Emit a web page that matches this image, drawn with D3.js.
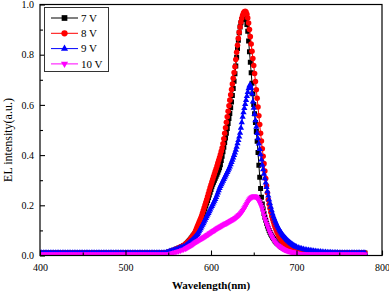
<!DOCTYPE html>
<html>
<head>
<meta charset="utf-8">
<script src="https://cdn.jsdelivr.net/npm/d3@7"></script>
<style>
body { margin: 0; background: #fff; }
svg text { font-family: "Liberation Serif", "Times New Roman", serif; fill: #000; }
</style>
</head>
<body>
<svg id="chart" width="389" height="298"></svg>
<script>
// sample grid of the spectra (nm): 2 nm in the flat parts, 1 nm over the peak
var wavelengths = d3.range(400, 570, 2).concat(d3.range(570, 700, 1), d3.range(700, 781, 2));

var el7V = [
    .010,.010,.010,.010,.010,.010,.010,.010,.010,.010,
    .010,.010,.010,.010,.010,.010,.010,.010,.010,.010,
    .010,.010,.010,.010,.010,.010,.010,.010,.010,.010,
    .010,.010,.010,.010,.010,.010,.010,.010,.010,.010,
    .010,.010,.010,.010,.010,.010,.010,.010,.010,.010,
    .010,.010,.010,.010,.010,.010,.010,.010,.010,.010,
    .010,.010,.010,.010,.010,.010,.010,.010,.010,.010,
    .010,.010,.010,.010,.011,.013,.016,.018,.020,.023,
    .026,.029,.032,.035,.039,
    .042,.046,.049,.053,.057,.061,.065,.069,.073,.078,
    .082,.086,.091,.099,.107,.115,.123,.131,.139,.147,
    .156,.166,.176,.187,.198,.209,.219,.230,.241,.252,
    .263,.274,.284,.292,.300,.308,.316,.324,.332,.341,
    .350,.362,.378,.395,.413,.431,.450,.468,.487,.506,
    .526,.546,.566,.589,.612,.637,.665,.694,.724,.755,
    .790,.825,.858,.887,.910,.927,.940,.950,.956,.957,
    .952,.940,.920,.893,.855,.812,.770,.728,.686,.644,
    .602,.565,.530,.494,.455,.410,.360,.312,.267,.232,
    .205,.185,.167,.152,.140,.128,.118,.109,.100,.092,
    .085,.079,.073,.068,.063,.058,.054,.050,.047,.044,
    .041,.038,.035,.033,.031,.029,.027,.025,.024,.022,
    .021,.020,.019,.018,.017,.016,.016,.015,.015,.014,
    .014,.013,.012,.011,.010,.010,.010,.010,.010,.010,
    .010,.010,.010,.010,.010,.010,.010,.010,.010,.010,
    .010,.010,.010,.010,.010,.010,.010,.010,.010,.010,
    .010,.010,.010,.010,.010,.010,.010,.010,.010,.010,
    .010
];

var el8V = [
    .010,.010,.010,.010,.010,.010,.010,.010,.010,.010,
    .010,.010,.010,.010,.010,.010,.010,.010,.010,.010,
    .010,.010,.010,.010,.010,.010,.010,.010,.010,.010,
    .010,.010,.010,.010,.010,.010,.010,.010,.010,.010,
    .010,.010,.010,.010,.010,.010,.010,.010,.010,.010,
    .010,.010,.010,.010,.010,.010,.010,.010,.010,.010,
    .010,.010,.010,.010,.010,.010,.010,.010,.010,.010,
    .010,.010,.010,.010,.011,.013,.016,.018,.021,.024,
    .027,.030,.034,.037,.041,
    .044,.048,.051,.054,.057,.061,.065,.070,.075,.080,
    .085,.091,.099,.107,.115,.123,.132,.140,.148,.157,
    .168,.179,.190,.201,.212,.223,.235,.247,.259,.271,
    .282,.293,.304,.315,.325,.336,.346,.357,.368,.379,
    .390,.402,.415,.428,.445,.465,.487,.509,.531,.553,
    .575,.597,.619,.640,.661,.683,.706,.729,.752,.781,
    .810,.838,.865,.889,.910,.929,.945,.957,.966,.971,
    .973,.970,.961,.946,.926,.900,.872,.843,.814,.785,
    .757,.725,.693,.660,.626,.592,.557,.522,.487,.456,
    .425,.395,.366,.337,.307,.278,.250,.222,.204,.188,
    .172,.157,.145,.134,.123,.113,.104,.095,.088,.081,
    .075,.069,.064,.059,.054,.050,.046,.042,.039,.036,
    .034,.032,.030,.028,.026,.025,.023,.022,.021,.020,
    .019,.018,.017,.016,.015,.014,.013,.012,.012,.011,
    .011,.010,.010,.010,.010,.010,.010,.010,.010,.010,
    .010,.010,.010,.010,.010,.010,.010,.010,.010,.010,
    .010,.010,.010,.010,.010,.010,.010,.010,.010,.010,
    .010
];

var el9V = [
    .010,.010,.010,.010,.010,.010,.010,.010,.010,.010,
    .010,.010,.010,.010,.010,.010,.010,.010,.010,.010,
    .010,.010,.010,.010,.010,.010,.010,.010,.010,.010,
    .010,.010,.010,.010,.010,.010,.010,.010,.010,.010,
    .010,.010,.010,.010,.010,.010,.010,.010,.010,.010,
    .010,.010,.010,.010,.010,.010,.010,.010,.010,.010,
    .010,.010,.010,.010,.010,.010,.010,.010,.010,.010,
    .010,.010,.010,.010,.012,.014,.017,.019,.021,.023,
    .025,.028,.031,.033,.036,
    .038,.041,.043,.046,.049,.052,.055,.058,.061,.065,
    .068,.072,.076,.081,.085,.090,.096,.102,.108,.115,
    .122,.128,.135,.142,.149,.156,.163,.169,.176,.183,
    .190,.196,.203,.210,.217,.224,.232,.241,.250,.259,
    .268,.276,.283,.290,.297,.304,.311,.318,.325,.332,
    .339,.346,.354,.363,.372,.381,.390,.400,.410,.421,
    .433,.446,.459,.473,.488,.508,.530,.552,.570,.587,
    .603,.619,.635,.651,.666,.677,.680,.668,.645,.613,
    .588,.563,.538,.512,.487,.466,.445,.424,.403,.382,
    .361,.343,.325,.307,.290,.272,.255,.238,.222,.207,
    .193,.180,.167,.156,.147,.138,.130,.122,.115,.108,
    .102,.096,.091,.086,.081,.077,.073,.069,.065,.061,
    .058,.055,.052,.049,.046,.044,.041,.039,.037,.035,
    .034,.031,.029,.027,.025,.023,.022,.021,.020,.019,
    .018,.017,.016,.015,.015,.014,.013,.013,.012,.012,
    .012,.011,.011,.011,.011,.010,.010,.010,.010,.010,
    .010,.010,.010,.010,.010,.010,.010,.010,.010,.010,
    .010
];

var el10V = [
    .005,.005,.005,.005,.005,.005,.005,.005,.005,.005,
    .005,.005,.005,.005,.005,.005,.005,.005,.005,.005,
    .005,.005,.005,.005,.005,.005,.005,.005,.005,.005,
    .005,.005,.005,.005,.005,.005,.005,.005,.005,.005,
    .005,.005,.005,.005,.005,.005,.005,.005,.005,.005,
    .005,.005,.005,.005,.005,.005,.005,.005,.005,.005,
    .005,.005,.005,.005,.005,.005,.005,.005,.005,.005,
    .005,.005,.005,.005,.005,.006,.007,.009,.011,.013,
    .015,.017,.019,.022,.024,
    .027,.029,.031,.033,.035,.037,.039,.041,.043,.045,
    .048,.050,.053,.055,.057,.059,.061,.063,.065,.067,
    .069,.071,.073,.075,.077,.080,.082,.084,.087,.089,
    .091,.093,.096,.098,.100,.102,.105,.107,.109,.111,
    .113,.115,.117,.119,.121,.123,.125,.127,.128,.130,
    .132,.134,.136,.138,.140,.142,.144,.146,.148,.150,
    .153,.156,.159,.162,.165,.169,.173,.178,.183,.189,
    .195,.201,.207,.213,.219,.224,.228,.231,.233,.235,
    .236,.236,.235,.233,.229,.224,.218,.211,.203,.195,
    .185,.173,.160,.147,.137,.127,.118,.109,.100,.091,
    .083,.076,.069,.063,.058,.053,.049,.045,.042,.039,
    .036,.034,.031,.029,.027,.025,.023,.022,.020,.019,
    .018,.017,.016,.015,.014,.013,.013,.012,.012,.011,
    .009,.008,.007,.006,.006,.005,.005,.005,.005,.005,
    .005,.005,.005,.005,.005,.005,.005,.005,.005,.005,
    .005,.005,.005,.005,.005,.005,.005,.005,.005,.005,
    .005,.005,.005,.005,.005,.005,.005,.005,.005,.005,
    .005
];

var seriesNames = ["7 V", "8 V", "9 V", "10 V"];
var seriesValues = [el7V, el8V, el9V, el10V];
var seriesColors = ["#000000", "#ff0000", "#0000ff", "#ff00ff"];

var xTicks = [400, 500, 600, 700, 800];
var xMinorTicks = [450, 550, 650, 750];
var yTicks = [0.0, 0.2, 0.4, 0.6, 0.8, 1.0];
var yMinorTicks = [0.1, 0.3, 0.5, 0.7, 0.9];

(function() {
    var svg = d3.select("#chart");
    var margin = {top: 4.5, right: 7, bottom: 42.5, left: 40};
    var width = +svg.attr("width");
    var height = +svg.attr("height");

    var x = d3.scaleLinear().domain([400, 800]).range([margin.left, width - margin.right]);
    var y = d3.scaleLinear().domain([0, 1]).range([height - margin.bottom, margin.top]);

    var symbols = [
        {type: d3.symbolSquare, size: 25, rotate: 0},
        {type: d3.symbolCircle, size: 24, rotate: 0},
        {type: d3.symbolTriangle, size: 17, rotate: 0},
        {type: d3.symbolTriangle, size: 17, rotate: 180}
    ];

    svg.append("defs").append("clipPath").attr("id", "plot-clip")
        .append("rect")
        .attr("x", x(400)).attr("y", y(1))
        .attr("width", x(800) - x(400)).attr("height", y(0) - y(1));

    var series = seriesNames.map(function(name, i) {
        return {
            name: name,
            color: seriesColors[i],
            symbol: symbols[i],
            points: wavelengths.map(function(w, j) { return {w: w, v: seriesValues[i][j]}; })
        };
    });

    var line = d3.line()
        .x(function(d) { return x(d.w); })
        .y(function(d) { return y(d.v); });

    var marks = svg.append("g").attr("clip-path", "url(#plot-clip)");

    series.forEach(function(s) {
        var g = marks.append("g");
        g.append("path")
            .attr("d", line(s.points))
            .attr("fill", "none")
            .attr("stroke", s.color)
            .attr("stroke-width", 1);

        var sym = d3.symbol().type(s.symbol.type).size(s.symbol.size);
        g.selectAll("path.pt").data(s.points).enter().append("path")
            .attr("class", "pt")
            .attr("d", sym)
            .attr("fill", s.color)
            .attr("transform", function(d) {
                return "translate(" + x(d.w) + "," + y(d.v) + ") rotate(" + s.symbol.rotate + ")";
            });
    });

    // axes: ticks point inward
    svg.append("g")
        .attr("transform", "translate(0," + y(0) + ")")
        .call(d3.axisBottom(x).tickValues(xTicks).tickFormat(d3.format("d")).tickSize(-5).tickPadding(8));
    svg.append("g")
        .attr("transform", "translate(0," + y(0) + ")")
        .call(d3.axisBottom(x).tickValues(xMinorTicks).tickFormat("").tickSize(-3));

    svg.append("g")
        .attr("transform", "translate(" + x(400) + ",0)")
        .call(d3.axisLeft(y).tickValues(yTicks).tickFormat(d3.format(".1f")).tickSize(-5).tickPadding(6));
    svg.append("g")
        .attr("transform", "translate(" + x(400) + ",0)")
        .call(d3.axisLeft(y).tickValues(yMinorTicks).tickFormat("").tickSize(-3));

    svg.selectAll(".domain").remove();
    svg.selectAll(".tick line").attr("stroke", "#000").attr("stroke-width", 1.1);
    svg.selectAll(".tick text")
        .attr("font-family", "Liberation Serif, Times New Roman, serif")
        .attr("font-size", "10px")
        .attr("fill", "#000");

    svg.append("rect")
        .attr("x", x(400)).attr("y", y(1))
        .attr("width", x(800) - x(400)).attr("height", y(0) - y(1))
        .attr("fill", "none")
        .attr("stroke", "#000")
        .attr("stroke-width", 1.2);

    svg.append("text")
        .attr("x", (x(400) + x(800)) / 2)
        .attr("y", 289)
        .attr("text-anchor", "middle")
        .attr("font-weight", "bold")
        .attr("font-size", "11px")
        .text("Wavelength(nm)");

    svg.append("text")
        .attr("transform", "translate(12," + (y(0.5) + 10) + ") rotate(-90)")
        .attr("text-anchor", "middle")
        .attr("font-size", "12px")
        .text("EL intensity(a.u.)");

    // legend
    var legend = svg.append("g").attr("transform", "translate(44.5,7.5)");
    legend.append("rect")
        .attr("width", 64).attr("height", 64)
        .attr("fill", "#fff")
        .attr("stroke", "#333")
        .attr("stroke-width", 1);

    var rows = legend.selectAll("g.row").data(series).enter().append("g")
        .attr("class", "row")
        .attr("transform", function(d, i) { return "translate(0," + (10.5 + i * 15.3) + ")"; });

    rows.append("line")
        .attr("x1", 6.5).attr("x2", 33.5)
        .attr("stroke", function(d) { return d.color; })
        .attr("stroke-width", 1);

    rows.append("path")
        .attr("d", function(d) { return d3.symbol().type(d.symbol.type).size(d.symbol.size * 1.3)(); })
        .attr("fill", function(d) { return d.color; })
        .attr("transform", function(d) { return "translate(20,0) rotate(" + d.symbol.rotate + ")"; });

    rows.append("text")
        .attr("x", 36.5)
        .attr("dy", "0.35em")
        .attr("font-size", "11px")
        .text(function(d) { return d.name; });
}());
</script>
</body>
</html>
